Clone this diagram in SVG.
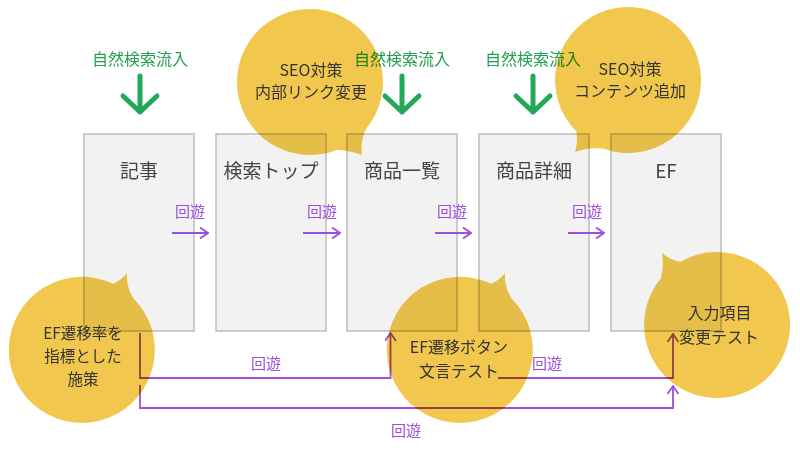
<svg xmlns="http://www.w3.org/2000/svg" width="800" height="450" viewBox="0 0 800 450">
<defs>
<style>
text{font-family:"Noto Sans CJK JP","Noto Sans",sans-serif;text-anchor:middle;dominant-baseline:central}
.box{fill:#f2f2f2;stroke:#bdbdbd;stroke-width:1.5}
.lbl{font-size:19px;fill:#444}
.src{font-size:16px;fill:#22a04f}
.garr{fill:none;stroke:#22a859;stroke-width:5;stroke-linecap:round;stroke-linejoin:round}
.flow{fill:none;stroke:#9b4fdc;stroke-width:1.8}
.fl{font-size:15px;fill:#9b4fdc}
.bub{fill:#f1c84d;mix-blend-mode:multiply}
.bt{font-size:16px;fill:#333}
.bs{font-size:15.5px;fill:#333}
</style>
<marker id="ah" viewBox="0 0 10 12" refX="9" refY="6" markerWidth="10" markerHeight="12" markerUnits="userSpaceOnUse" orient="auto">
<path d="M1,0.5 L9,6 L1,11.5" fill="none" stroke="#9b4fdc" stroke-width="1.8"/>
</marker>
</defs>
<rect width="800" height="450" fill="#ffffff"/>

<g id="node-kiji"><rect class="box" x="84" y="134" width="110" height="197"/><text class="lbl" x="139" y="169">記事</text></g>
<g id="node-search-top"><rect class="box" x="216" y="134" width="110" height="197"/><text class="lbl" x="271" y="169">検索トップ</text></g>
<g id="node-list"><rect class="box" x="347" y="134" width="110" height="197"/><text class="lbl" x="402" y="169">商品一覧</text></g>
<g id="node-detail"><rect class="box" x="479" y="134" width="110" height="197"/><text class="lbl" x="534" y="169">商品詳細</text></g>
<g id="node-ef"><rect class="box" x="611" y="134" width="110" height="197"/><text class="lbl" x="666" y="169">EF</text></g>

<g id="inflow-kiji"><text class="src" x="140" y="57.5">自然検索流入</text><path class="garr" d="M140,76 V112 M123,96 L140,112 L157,96"/></g>
<g id="inflow-list"><text class="src" x="402" y="57.5">自然検索流入</text><path class="garr" d="M402,76 V112 M385,96 L402,112 L419,96"/></g>
<g id="inflow-detail"><text class="src" x="533" y="57.5">自然検索流入</text><path class="garr" d="M533,76 V112 M516,96 L533,112 L550,96"/></g>

<g id="connectors">
<path class="flow" d="M172,233 H208" marker-end="url(#ah)"/>
<path class="flow" d="M303,233 H340" marker-end="url(#ah)"/>
<path class="flow" d="M435,233 H471" marker-end="url(#ah)"/>
<path class="flow" d="M568,233 H604" marker-end="url(#ah)"/>
<text class="fl" x="190" y="210.5">回遊</text>
<text class="fl" x="322" y="210.5">回遊</text>
<text class="fl" x="452" y="210.5">回遊</text>
<text class="fl" x="587" y="210.5">回遊</text>
<path class="flow" d="M140,333 V378 H390.5 V333" marker-end="url(#ah)"/>
<path class="flow" d="M140,385 V408 H673 V386" marker-end="url(#ah)"/>
<path class="flow" d="M498,378 H673 V334" marker-end="url(#ah)"/>
<text class="fl" x="266" y="362">回遊</text>
<text class="fl" x="547" y="362">回遊</text>
<text class="fl" x="406" y="429">回遊</text>
</g>

<g id="note-seo-link">
<path class="bub" d="M365.9,128.9 A73,73 0 1,0 337.3,149.7 Q352,151 362,155 Q360,142 365.9,128.9 Z"/>
<text class="bt" x="311" y="68.5">SEO対策</text>
<text class="bt" x="311" y="90.5">内部リンク変更</text>
</g>
<g id="note-seo-content">
<path class="bub" d="M603,148.6 A73,73 0 1,0 576.4,131.6 Q578,143 575,152 Q588,147 603,148.6 Z"/>
<text class="bt" x="630" y="67.5">SEO対策</text>
<text class="bt" x="630" y="90">コンテンツ追加</text>
</g>
<g id="note-ef-rate">
<path class="bub" d="M133.6,298.4 A73,73 0 1,1 112.9,283.8 Q122,280 127,273 Q126,287 133.6,298.4 Z"/>
<text class="bs" x="83" y="332">EF遷移率を</text>
<text class="bs" x="83" y="355">指標とした</text>
<text class="bs" x="83" y="377.5">施策</text>
</g>
<g id="note-ef-button">
<path class="bub" d="M511.6,298.4 A73,73 0 1,1 490.9,283.8 Q500,280 505,273 Q504,287 511.6,298.4 Z"/>
<text class="bt" x="459" y="345.5">EF遷移ボタン</text>
<text class="bt" x="459" y="369.5">文言テスト</text>
</g>
<g id="note-input">
<path class="bub" d="M680.5,261.8 A73,73 0 1,1 661.1,278.1 Q664,265 662,253 Q670,260 680.5,261.8 Z"/>
<text class="bt" x="719.5" y="311.5">入力項目</text>
<text class="bt" x="719" y="335.5">変更テスト</text>
</g>
</svg>
